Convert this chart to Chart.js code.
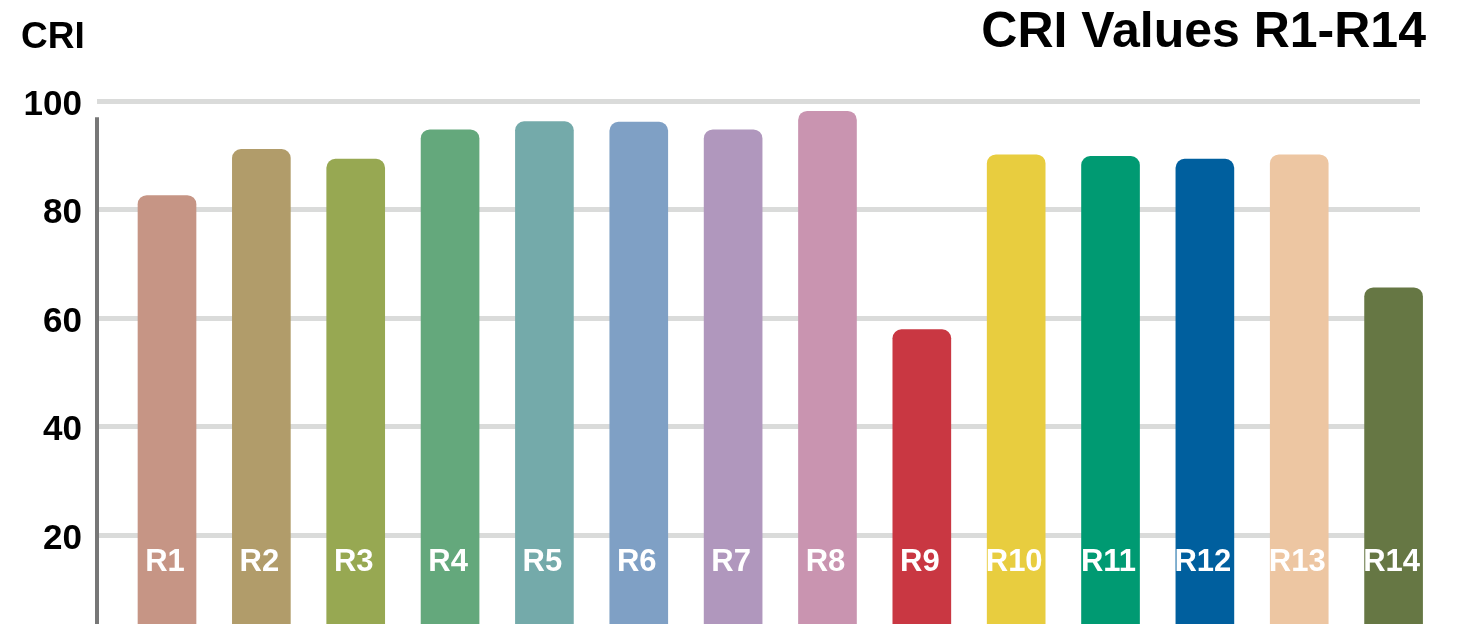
<!DOCTYPE html>
<html lang="en">
<head>
  <meta charset="UTF-8" />
  <title>CRI Values R1-R14</title>
  <script src="https://cdn.jsdelivr.net/npm/chart.js"></script>
  <style>
    html, body { margin: 0; padding: 0; background: #fff; overflow: hidden; width: 1471px; height: 624px; }
    body { position: relative; font-family: "Liberation Sans", Arial, sans-serif; }
    .wrap { position: absolute; left: 0; top: 0; width: 1471px; height: 700px; }
    .ylabel { position: absolute; left: 21px; top: 17px; font-size: 37px; line-height: 1; font-weight: bold; color: #000; }
    .title { position: absolute; right: 45px; top: 5px; font-size: 50px; line-height: 1; font-weight: bold; color: #000; }
  </style>
</head>
<body>
  <div class="wrap"><canvas id="chart"></canvas></div>
  <div class="ylabel">CRI</div>
  <div class="title">CRI Values R1-R14</div>

  <script>
    // values
    const categories = ['R1', 'R2', 'R3', 'R4', 'R5', 'R6', 'R7', 'R8', 'R9', 'R10', 'R11', 'R12', 'R13', 'R14'];
    const criValues = [82.6, 91.1, 89.3, 94.7, 96.2, 96.1, 94.7, 98.1, 57.9, 90.1, 89.8, 89.3, 90.1, 65.6];
    const barColors = ['#c69585', '#b19c6a', '#97a852', '#64a87c', '#74aaaa', '#7fa0c5', '#b097bd',
                       '#c994b0', '#c93742', '#e8cd3f', '#009a72', '#005f9e', '#edc6a2', '#667744'];

    const points = criValues.map((v, i) => ({ x: i + 1, y: v }));

    // white labels inside each bar, near the bottom
    const barLabels = {
      id: 'barLabels',
      afterDatasetsDraw(chart) {
        const ctx = chart.ctx;
        const yScale = chart.scales.y;
        const meta = chart.getDatasetMeta(0);
        ctx.save();
        ctx.fillStyle = '#fff';
        ctx.font = 'bold 31px "Liberation Sans", Arial, sans-serif';
        ctx.textAlign = 'center';
        ctx.textBaseline = 'middle';
        meta.data.forEach((bar, i) => {
          ctx.fillText(categories[i], bar.x - 2, yScale.getPixelForValue(15.1));
        });
        ctx.restore();
      }
    };

    // dark vertical axis line, starting a little below the top gridline
    const axisLine = {
      id: 'axisLine',
      afterDraw(chart) {
        const ctx = chart.ctx;
        const area = chart.chartArea;
        const yScale = chart.scales.y;
        ctx.save();
        ctx.strokeStyle = '#777';
        ctx.lineWidth = 4;
        ctx.beginPath();
        ctx.moveTo(area.left, yScale.getPixelForValue(97));
        ctx.lineTo(area.left, area.bottom);
        ctx.stroke();
        ctx.restore();
      }
    };

    new Chart(document.getElementById('chart'), {
      type: 'bar',
      data: {
        datasets: [{
          label: 'CRI',
          data: points,
          backgroundColor: barColors,
          barThickness: 58,
          clip: false,
          borderRadius: { topLeft: 9, topRight: 9, bottomLeft: 0, bottomRight: 0 },
          borderSkipped: 'start'
        }]
      },
      options: {
        responsive: true,
        maintainAspectRatio: false,
        animation: false,
        layout: { padding: { top: 101, left: 0, right: 51, bottom: 56 } },
        plugins: {
          legend: { display: false },
          tooltip: { enabled: false },
          title: { display: false }
        },
        scales: {
          x: {
            type: 'linear',
            display: false,
            min: 0.258,
            max: 14.28,
            offset: false
          },
          y: {
            min: 0,
            max: 100,
            afterFit(scale) { scale.width = 97; },
            border: { display: false },
            grid: { color: '#dadbda', lineWidth: 5, drawTicks: false },
            ticks: {
              stepSize: 20,
              padding: 15,
              labelOffset: 4,
              color: '#000',
              font: { family: '"Liberation Sans", Arial, sans-serif', size: 35, weight: 'bold' },
              callback: (v) => v === 0 ? '' : v
            }
          }
        }
      },
      plugins: [barLabels, axisLine]
    });
  </script>
</body>
</html>
